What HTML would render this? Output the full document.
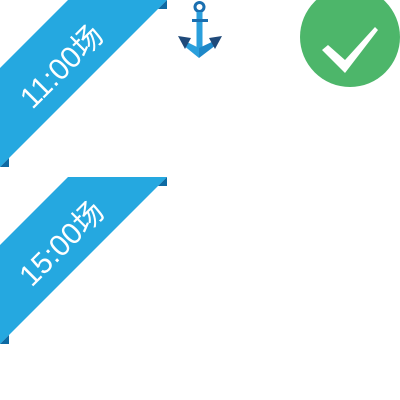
<!DOCTYPE html>
<html><head><meta charset="utf-8"><style>
html,body{margin:0;padding:0;background:#fff;width:400px;height:400px;overflow:hidden}
text{font-family:"Liberation Sans","Noto Sans CJK SC",sans-serif}
</style></head><body>
<svg width="400" height="400" viewBox="0 0 400 400">
 <g>
  <polygon points="68,0 167,0 0,167 0,68" fill="#25a8e0"/>
  <polygon points="158,9 167,0 167,9" fill="#0e6aa3"/>
  <polygon points="0,167 9,158 9,167" fill="#0e6aa3"/>
  <text x="61" y="77" fill="#fff" font-size="30" text-anchor="middle" transform="rotate(-45 61 66)">11:00场</text>
 </g>
 <g transform="translate(0,177)">
  <polygon points="68,0 167,0 0,167 0,68" fill="#25a8e0"/>
  <polygon points="158,9 167,0 167,9" fill="#0e6aa3"/>
  <polygon points="0,167 9,158 9,167" fill="#0e6aa3"/>
  <text x="61" y="77" fill="#fff" font-size="30" text-anchor="middle" transform="rotate(-45 61 66)">15:00场</text>
 </g>
 <g>
  <circle cx="199.5" cy="7" r="4.5" fill="none" stroke="#1a6fb0" stroke-width="3"/>
  <rect x="196.5" y="12" width="6" height="38" fill="#2a9fdc"/>
  <rect x="192" y="19" width="16" height="3" fill="#1a6fb0"/>
  <polygon points="183,40 199,48 199,58 183,45" fill="#2a9fdc"/>
  <polygon points="216,40 199,48 199,58 216,45" fill="#1e88c8"/>
  <polygon points="178,36 191,38 185,49" fill="#1f4a7a"/>
  <polygon points="222,36 209,38 215,49" fill="#1f4a7a"/>
 </g>
 <g>
  <circle cx="350" cy="37" r="50" fill="#4db66a"/>
  <polygon points="322,50 328,45 345,60 375,27 378,30 345,73" fill="#fff"/>
 </g>
</svg>
</body></html>
